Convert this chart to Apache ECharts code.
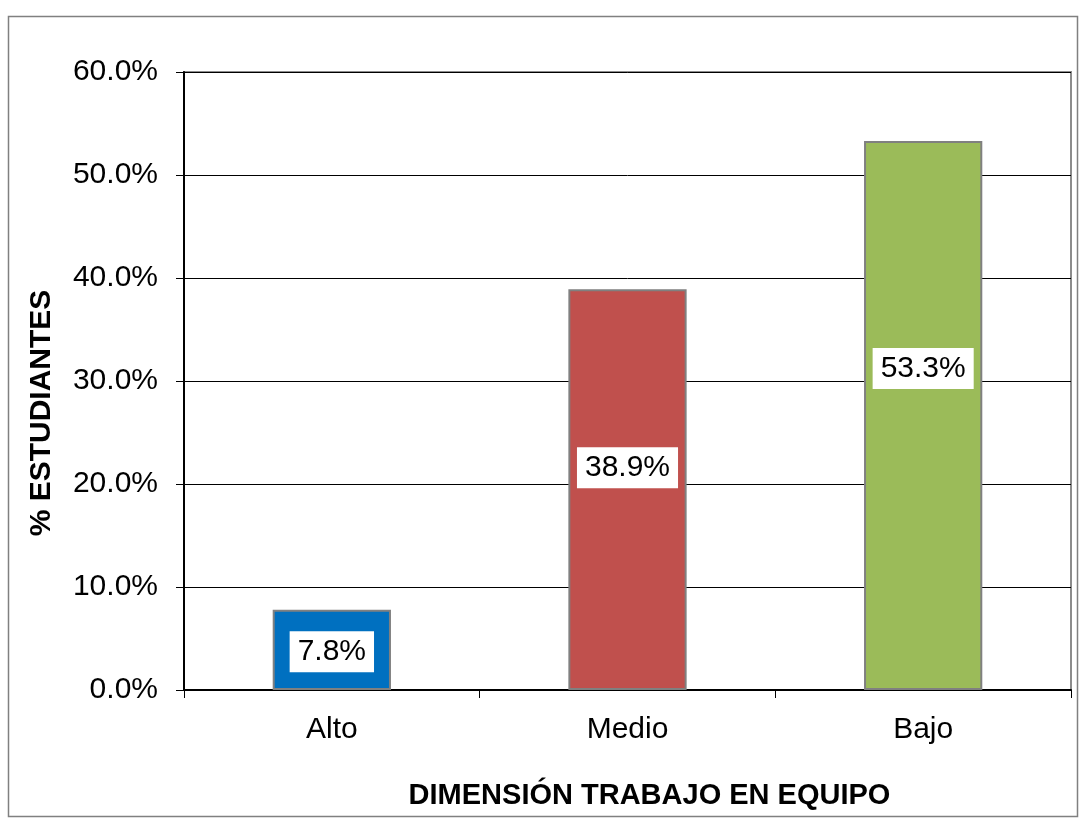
<!DOCTYPE html>
<html>
<head>
<meta charset="utf-8">
<script src="https://cdn.jsdelivr.net/npm/echarts@6/dist/echarts.min.js"></script>
<style>
  html, body { margin: 0; padding: 0; background: #fff; }
  #chart { width: 1080px; height: 819px; }
</style>
</head>
<body>
<div id="chart"></div>
<script>
// categorías y porcentajes
const categories = ["Alto", "Medio", "Bajo"];
const values = [7.8, 38.9, 53.3];
const barColors = ["#0070C0", "#C0504D", "#9BBB59"];
const labelOffsets = [2, -22, -47]; // desplazamiento vertical de etiquetas

const myChart = echarts.init(document.getElementById("chart"));

const seriesData = values.map((v, i) => ({
  value: v,
  itemStyle: { color: barColors[i] },
  label: { offset: [0, labelOffsets[i]] },
}));

const option = {
  animation: false,
  backgroundColor: "#fff",
  graphic: [
    {
      type: "rect",
      shape: { x: 8.5, y: 16.5, width: 1069, height: 800 },
      style: { fill: "none", stroke: "#808080", lineWidth: 1.5 },
      silent: true,
    },
  ],
  grid: {
    left: 184,
    right: 9,
    top: 72,
    bottom: 129,
    show: true,
    borderColor: "#8c8c8c",
    borderWidth: 2,
    containLabel: false,
  },
  xAxis: {
    type: "category",
    data: categories,
    name: "DIMENSIÓN TRABAJO EN EQUIPO",
    nameLocation: "middle",
    nameGap: 91,
    nameTextStyle: {
      fontFamily: "Liberation Sans",
      fontSize: 29,
      fontWeight: "bold",
      color: "#000",
      padding: [0, 0, 0, 44],
    },
    axisLine: { lineStyle: { color: "#000", width: 2 } },
    axisTick: { show: true, alignWithLabel: false, length: 8, lineStyle: { color: "#000" } },
    axisLabel: {
      fontFamily: "Liberation Sans",
      fontSize: 30,
      color: "#000",
      margin: 25,
    },
  },
  yAxis: {
    type: "value",
    min: 0,
    max: 60,
    interval: 10,
    name: "% ESTUDIANTES",
    nameLocation: "middle",
    nameGap: 127,
    nameRotate: 90,
    nameTextStyle: {
      fontFamily: "Liberation Sans",
      fontSize: 30,
      fontWeight: "bold",
      color: "#000",
      padding: [0, 0, 0, -64],
    },
    axisLine: { show: true, lineStyle: { color: "#000", width: 2 } },
    axisTick: { show: true, length: 8, lineStyle: { color: "#000" } },
    splitLine: { lineStyle: { color: "#000", width: 1 } },
    axisLabel: {
      fontFamily: "Liberation Sans",
      fontSize: 30,
      color: "#000",
      margin: 26,
      formatter: v => v.toFixed(1) + "%",
    },
  },
  series: [
    {
      type: "bar",
      data: seriesData,
      barWidth: "40%",
      itemStyle: { borderColor: "#808080", borderWidth: 2 },
      label: {
        show: true,
        position: "inside",
        formatter: p => p.value.toFixed(1) + "%",
        fontFamily: "Liberation Sans",
        fontSize: 30,
        color: "#000",
        backgroundColor: "#fff",
        padding: [6, 8, 5, 8],
      },
    },
  ],
};

myChart.setOption(option);
</script>
</body>
</html>
